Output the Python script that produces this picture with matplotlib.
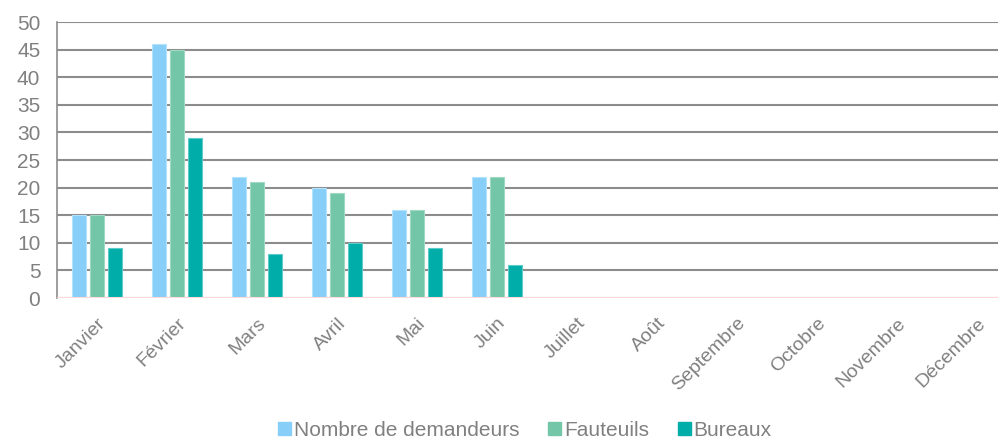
import numpy as np
import matplotlib
matplotlib.use('Agg')
import matplotlib.pyplot as plt
import matplotlib.transforms as mtransforms
from matplotlib.patches import Patch

months = ["Janvier", "Février", "Mars", "Avril", "Mai", "Juin", "Juillet",
          "Août", "Septembre", "Octobre", "Novembre", "Décembre"]
demandeurs = [15, 46, 22, 20, 16, 22, 0, 0, 0, 0, 0, 0]
fauteuils = [15, 45, 21, 19, 16, 22, 0, 0, 0, 0, 0, 0]
bureaux = [9, 29, 8, 10, 9, 6, 0, 0, 0, 0, 0, 0]
series_names = ["Nombre de demandeurs", "Fauteuils", "Bureaux"]
colors = ["#87CFF8", "#73C7A8", "#00ADA9"]
edges = ["#B5E2FB", "#9FD8C3", "#5CCCC8"]

plt.rcParams['font.family'] = ['Liberation Sans', 'DejaVu Sans']
grey = "#808080"

fig = plt.figure(figsize=(9.98, 4.43), dpi=100)
# plot area runs a little past the right edge of the image, as in the original
ax = fig.add_axes([57 / 998, 145 / 443, 960 / 998, 276 / 443])

x = np.arange(len(months))
w = 0.18
step = 0.225
for i, vals in enumerate([demandeurs, fauteuils, bureaux]):
    ax.bar(x + (i - 1) * step, vals, width=w, color=colors[i],
           edgecolor=edges[i], linewidth=0.8, zorder=3)

ax.set_xlim(-0.5, len(months) - 0.5)
ax.set_ylim(0, 50)
ax.set_yticks(range(0, 51, 5))
ax.yaxis.grid(True, color="#8C8C8C", linewidth=1.5, zorder=0)
ax.set_axisbelow(True)

for s in ["top", "right", "bottom"]:
    ax.spines[s].set_visible(False)
ax.spines["left"].set_color("#8C8C8C")
ax.spines["left"].set_linewidth(1.2)
ax.axhline(0, color="#FFD9D9", linewidth=1.5, zorder=4)

ax.set_xticks(x)
ax.set_xticklabels(months, rotation=45, ha="right", rotation_mode="anchor",
                   fontsize=14, color=grey)
shift = mtransforms.ScaledTranslation(8 / 100, 0, fig.dpi_scale_trans)
for lbl in ax.get_xticklabels():
    lbl.set_transform(lbl.get_transform() + shift)
ax.tick_params(axis="x", length=0, pad=12)
ax.tick_params(axis="y", length=0, pad=12, labelsize=15, labelcolor=grey)

handles = [Patch(facecolor=c, edgecolor=c) for c in colors]
fig.legend(handles, series_names, loc="lower center", ncol=3, frameon=False,
           fontsize=15, labelcolor=grey, handlelength=0.6, handleheight=0.6,
           handletextpad=0.15, columnspacing=1.4, bbox_to_anchor=(0.526, -0.035))

fig.savefig("out.png", dpi=100)
